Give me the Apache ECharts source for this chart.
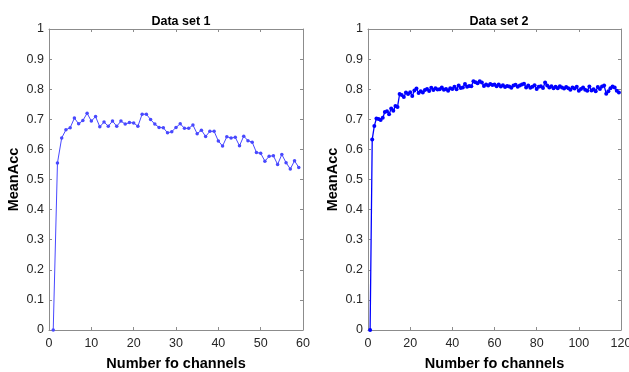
<!DOCTYPE html>
<html>
<head>
<meta charset="utf-8">
<style>html,body{margin:0;padding:0;background:#fff;}#c{width:629px;height:372px;}</style>
<script src="https://cdn.jsdelivr.net/npm/echarts@6/dist/echarts.min.js"></script>
</head>
<body>
<div id="c"></div>
<script>
const titles = ["Data set 1", "Data set 2"];
const xName = "Number fo channels";
const yName = "MeanAcc";
const set1 = [0, 0.555, 0.638, 0.665, 0.672, 0.704, 0.685, 0.696, 0.720, 0.694,
  0.709, 0.675, 0.691, 0.677, 0.694, 0.677, 0.694, 0.684, 0.689, 0.688,
  0.677, 0.717, 0.717, 0.699, 0.684, 0.673, 0.672, 0.655, 0.659, 0.673,
  0.685, 0.670, 0.670, 0.681, 0.652, 0.664, 0.643, 0.660, 0.660, 0.628,
  0.611, 0.642, 0.638, 0.640, 0.612, 0.644, 0.629, 0.624, 0.590, 0.587,
  0.561, 0.577, 0.579, 0.550, 0.583, 0.556, 0.535, 0.562, 0.540];
const set2 = [0, 0.633, 0.678, 0.703, 0.701, 0.698, 0.705, 0.724, 0.727, 0.717,
  0.736, 0.728, 0.744, 0.741, 0.784, 0.781, 0.774, 0.789, 0.784, 0.790,
  0.777, 0.796, 0.802, 0.787, 0.793, 0.789, 0.797, 0.801, 0.794, 0.805,
  0.797, 0.803, 0.799, 0.800, 0.806, 0.798, 0.801, 0.795, 0.803, 0.801,
  0.808, 0.800, 0.812, 0.804, 0.806, 0.817, 0.808, 0.811, 0.810, 0.826,
  0.823, 0.820, 0.826, 0.822, 0.811, 0.816, 0.812, 0.817, 0.814, 0.816,
  0.810, 0.816, 0.809, 0.813, 0.807, 0.811, 0.809, 0.805, 0.812, 0.815,
  0.808, 0.812, 0.816, 0.818, 0.806, 0.812, 0.805, 0.808, 0.813, 0.801,
  0.808, 0.810, 0.804, 0.822, 0.812, 0.806, 0.810, 0.803, 0.808, 0.803,
  0.810, 0.806, 0.802, 0.807, 0.803, 0.798, 0.806, 0.802, 0.808, 0.795,
  0.801, 0.806, 0.798, 0.795, 0.809, 0.796, 0.800, 0.793, 0.807, 0.801,
  0.809, 0.812, 0.785, 0.793, 0.803, 0.809, 0.806, 0.795, 0.789];
const xMax = [60, 120];
const xStep = [10, 20];

const FONT = '"Liberation Sans", Arial, Helvetica, sans-serif';
const AXC = '#8c8c8c';
const TXC = '#262626';

function pairs(arr) { return arr.map((v, i) => [i + 1, v]); }

function xAx(g, bottom) {
  return {
    type: 'value', gridIndex: g, position: bottom ? 'bottom' : 'top',
    min: 0, max: xMax[g], interval: xStep[g],
    name: bottom ? xName : '', nameLocation: 'middle', nameGap: 26,
    nameTextStyle: { fontFamily: FONT, fontWeight: 'bold', fontSize: 14.5, color: '#000' },
    axisLine: { show: true, onZero: false, lineStyle: { color: AXC, width: 1 } },
    axisTick: { show: true, inside: true, length: 3, lineStyle: { color: AXC } },
    axisLabel: { show: bottom, fontFamily: FONT, fontSize: 12.5, color: TXC, margin: 7, hideOverlap: false },
    splitLine: { show: false }
  };
}
function yAx(g, left) {
  return {
    type: 'value', gridIndex: g, position: left ? 'left' : 'right',
    min: 0, max: 1, interval: 0.1,
    name: left ? yName : '', nameLocation: 'middle', nameGap: 28,
    nameTextStyle: { fontFamily: FONT, fontWeight: 'bold', fontSize: 14.5, color: '#000' },
    axisLine: { show: true, onZero: false, lineStyle: { color: AXC, width: 1 } },
    axisTick: { show: true, inside: true, length: 3, lineStyle: { color: AXC } },
    axisLabel: { show: left, fontFamily: FONT, fontSize: 12.5, color: TXC, margin: 5 },
    splitLine: { show: false }
  };
}

const chart = echarts.init(document.getElementById('c'), null, { renderer: 'canvas' });
chart.setOption({
  animation: false,
  backgroundColor: '#fff',
  title: [
    { text: titles[0], left: 176, top: 10, textAlign: 'center',
      textStyle: { fontFamily: FONT, fontWeight: 'bold', fontSize: 12.5, color: '#000' } },
    { text: titles[1], left: 494, top: 10, textAlign: 'center',
      textStyle: { fontFamily: FONT, fontWeight: 'bold', fontSize: 12.5, color: '#000' } }
  ],
  grid: [
    { left: 49, right: 326, top: 29, bottom: 42, containLabel: false, outerBoundsMode: 'none' },
    { left: 368, right: 8, top: 29, bottom: 42, containLabel: false, outerBoundsMode: 'none' }
  ],
  xAxis: [xAx(0, true), xAx(0, false), xAx(1, true), xAx(1, false)],
  yAxis: [yAx(0, true), yAx(0, false), yAx(1, true), yAx(1, false)],
  series: [
    { type: 'line', xAxisIndex: 0, yAxisIndex: 0, data: pairs(set1),
      symbol: 'circle', symbolSize: 3.5, showSymbol: true,
      lineStyle: { color: '#4848ff', width: 1 }, itemStyle: { color: '#4848ff' } },
    { type: 'line', xAxisIndex: 2, yAxisIndex: 2, data: pairs(set2),
      symbol: 'circle', symbolSize: 4, showSymbol: true,
      lineStyle: { color: '#0000ff', width: 1.3 }, itemStyle: { color: '#0000ff' } }
  ]
});
</script>
</body>
</html>
